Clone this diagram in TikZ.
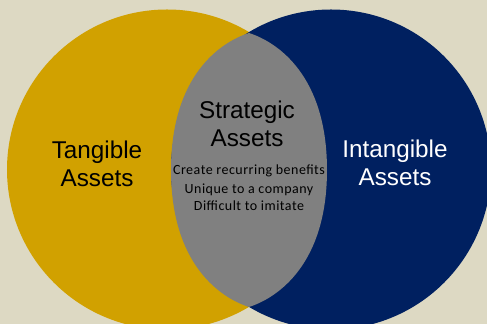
\documentclass[tikz,border=0pt]{standalone}
\usepackage{fontspec}
\setmainfont{Liberation Sans}
\newfontfamily\smallfont[LetterSpace=3.5]{Carlito}
\definecolor{backtan}{HTML}{DDD9C3}
\definecolor{assetgold}{HTML}{D1A100}
\definecolor{assetnavy}{HTML}{002060}
\definecolor{lensgray}{HTML}{808080}
\tikzset{
  bigtext/.style={align=center,font=\fontsize{18.2}{21}\selectfont,inner sep=0pt},
  smalltext/.style={align=center,font=\smallfont\fontsize{10.5}{12}\selectfont,inner sep=0pt},
}
\begin{document}
\begin{tikzpicture}[x=.75pt,y=.75pt]
\useasboundingbox (0,0) rectangle (487,324);
\clip (0,0) rectangle (487,324);
\fill [backtan] (0,0) rectangle (487,324);

\fill [assetgold] (167,154.5) circle (160);
\fill [assetnavy] (331,154.5) circle (160);
% the middle is fuller than the overlap of the two circles
\fill [lensgray] (249,291)
    .. controls (277,282) and (327,249) .. (327,154)
    .. controls (327,59) and (277,26) .. (249,17)
    .. controls (221,26) and (171,59) .. (171,154)
    .. controls (171,249) and (221,282) .. (249,291) -- cycle;

\node [bigtext] (tangible) at (97,160) {Tangible\\Assets};
\node [bigtext,white] (intangible) at (395,161) {Intangible\\Assets};
\node [bigtext] (strategic) at (247,200) {Strategic\\Assets};
\node [smalltext] (benefits) at (249,153) {Create recurring benefits};
\node [smalltext] (unique) at (249,134) {Unique to a company};
\node [smalltext] (imitate) at (249,118) {Difficult to imitate};
\end{tikzpicture}
\end{document}
